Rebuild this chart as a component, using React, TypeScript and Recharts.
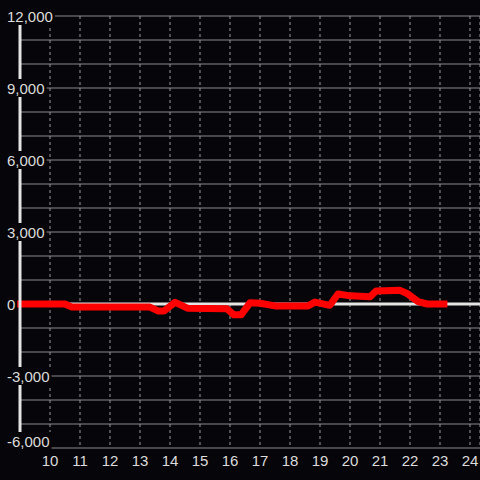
import React from "react";
import { LineChart, Line, XAxis, YAxis, CartesianGrid, ReferenceLine } from "recharts";

const hours = [9, 10.5, 10.73, 13.33, 13.6, 13.8, 14.17, 14.6, 15.9, 16.13, 16.37, 16.67, 17.0, 17.5, 18.6, 18.83, 19.33, 19.6, 20.0, 20.67, 20.87, 21.67, 21.9, 22.27, 22.57, 23.13];
const values = [0, 0, -130, -130, -290, -290, 70, -180, -200, -450, -450, 55, 30, -80, -80, 80, -55, 420, 340, 300, 540, 570, 440, 100, 0, 0];
const xTicks = [10, 11, 12, 13, 14, 15, 16, 17, 18, 19, 20, 21, 22, 23, 24];
const yTicks = [-6000, -5000, -4000, -3000, -2000, -1000, 0, 1000, 2000, 3000, 4000, 5000, 6000, 7000, 8000, 9000, 10000, 11000, 12000];
const yLabelStep = 3000;
const yMin = -6000;

const data = hours.map((h, i) => ({ h, v: values[i] }));

const BG = "#060509";
const TXT = "#dcdcdc";
const FONT = "'Liberation Sans', Arial, sans-serif";

function textWidth(s: string) {
  let w = 0;
  for (const c of s) {
    if (c === ",") w += 4.17;
    else if (c === "-") w += 5;
    else w += 8.34;
  }
  return w;
}

const YTick = (props: any) => {
  const { payload } = props;
  const v = payload.value as number;
  if (v % yLabelStep !== 0) return <g />;
  const y = v === yMin ? props.y - 7 : props.y;
  const label = v.toLocaleString("en-US");
  const w = textWidth(label);
  const tx = 7;
  return (
    <g>
      <rect x={tx - 1} y={y - 9} width={w + 3} height={18} fill={BG} />
      <text x={tx} y={y} dy={5.5} textAnchor="start" fill={TXT} fontSize={15} fontFamily={FONT}>
        {label}
      </text>
    </g>
  );
};

const XTick = (props: any) => {
  const { x, payload } = props;
  return (
    <text x={x} y={448} dy={18} textAnchor="middle" fill={TXT} fontSize={15} fontFamily={FONT}>
      {payload.value}
    </text>
  );
};

export default function App() {
  return (
    <div style={{ position: "absolute", left: 0, top: 0, width: 480, height: 480, background: BG }}>
      <LineChart width={480} height={480} data={data} margin={{ top: 16, right: 0, bottom: 0, left: 0 }}>
        <CartesianGrid horizontal={true} vertical={false} stroke="#8a8a8a" strokeWidth={1} />
        <CartesianGrid horizontal={false} vertical={true} stroke="#9a9a9a" strokeDasharray="3 3" strokeWidth={1} />
        <XAxis
          dataKey="h"
          type="number"
          domain={[9, 9 + 460 / 30]}
          ticks={xTicks}
          axisLine={false}
          tickLine={false}
          tickSize={0}
          tickMargin={0}
          height={32}
          tick={<XTick />}
          interval={0}
        />
        <YAxis
          type="number"
          domain={[-6000, 12000]}
          ticks={yTicks}
          width={20}
          axisLine={{ stroke: "#e4e4e4", strokeWidth: 3 }}
          tickLine={false}
          tickSize={0}
          tickMargin={0}
          tick={<YTick />}
          interval={0}
        />
        <ReferenceLine y={0} stroke="#e4e4e4" strokeWidth={3} />
        <Line
          dataKey="v"
          type="linear"
          stroke="#ff0000"
          strokeWidth={7}
          dot={false}
          activeDot={false}
          strokeLinejoin="round"
          strokeLinecap="square"
          isAnimationActive={false}
        />
      </LineChart>
    </div>
  );
}
